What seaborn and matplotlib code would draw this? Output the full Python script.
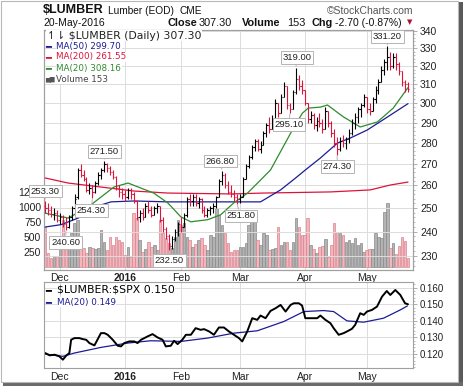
import numpy as np
import pandas as pd
import matplotlib
matplotlib.use('Agg')
import matplotlib.pyplot as plt
import matplotlib.ticker as mticker
from matplotlib.patches import Rectangle
import seaborn as sns

# ---- daily OHLC + volume, Nov 23 2015 .. May 20 2016 ----
opens = [251, 250, 249, 247.5, 248, 245, 246, 243, 242, 246,
         250, 255, 267, 265, 263, 258, 259, 257, 261, 265,
         267, 270, 268, 266, 264, 259, 257, 256, 255, 258,
         256, 253, 246, 248, 246, 251, 249, 247, 250, 251,
         245, 241, 238, 234, 237, 240, 243, 242, 247, 254,
         253, 255, 252, 254, 249, 247, 249, 250, 251, 255,
         262, 265, 260, 257, 256, 255, 254, 255, 263, 269,
         273, 278, 281, 277, 279, 285, 289, 287, 292, 300,
         295, 303, 309, 299, 297, 306, 313, 309, 307, 300,
         292, 294, 289, 291, 290, 287, 296, 290, 285, 280,
         277, 281, 280, 282, 285, 290, 293, 297, 299, 303,
         297, 296, 302, 307, 311, 318, 322, 325, 320, 325,
         321, 317, 311, 310]
highs = [253.3, 252, 251, 250, 249, 248, 247, 246, 247, 251,
         256, 268, 270, 267, 264, 261, 260, 262, 266, 268,
         271.5, 270.5, 269, 267, 264.5, 260, 259, 258, 259, 259,
         257, 253.5, 249, 250, 252, 253, 251, 251, 252, 251,
         246, 242, 239, 238, 241, 244, 246, 248, 255, 256,
         256, 256, 255, 254.5, 251, 250, 251, 252, 255.5, 263,
         266.8, 265.5, 262, 260, 258, 256, 256, 264, 270, 274,
         279, 282, 282, 281, 286, 290, 293, 294, 302, 300,
         305, 311, 309, 300, 307, 319, 315, 312, 307, 300,
         296, 295, 293, 295, 292, 298, 296, 291, 287, 283,
         283, 284, 283, 287, 292, 295, 298, 300, 305, 303,
         300, 303, 309, 313, 320, 324, 331.2, 328, 327, 327,
         322, 317, 312, 311]
lows = [248, 247, 246, 245, 244, 243, 242, 240.6, 241.5, 245,
        249, 254, 264, 262, 257, 256, 254.3, 256.5, 260, 263,
        266, 266, 265, 263, 258, 255, 254, 253, 254, 254,
        252, 245, 244, 245, 246, 248, 246, 247, 248, 244,
        240, 237, 232.5, 233, 236, 238, 240, 242, 246, 251,
        251, 251, 250, 248, 246, 246, 247, 248, 250, 255,
        260, 259, 256, 255, 253, 251.8, 252, 255, 263, 268,
        272, 276, 276, 275, 279, 283, 285, 287, 292, 293,
        295, 303, 297, 295.1, 297, 305, 307, 305, 299, 290,
        290, 287, 286, 288, 285, 287, 288, 283, 278, 274.3,
        276, 278, 277, 280, 284, 287, 290, 293, 298, 295,
        294, 296, 300, 305, 311, 315, 318, 318, 319, 318,
        315, 309, 306, 306]
closes = [250, 249, 247.5, 248, 245, 246, 243, 242, 246, 250,
          254, 267, 265, 263, 258, 259, 257, 261, 265, 267,
          270, 268, 266, 264, 259, 257, 256, 255, 258, 256,
          253, 246, 248, 246, 251, 249, 247, 250, 251, 245,
          241, 238, 234, 237, 240, 243, 242, 247, 254, 253,
          255, 252, 254, 249, 247, 249, 250, 251, 255, 262,
          265, 260, 257, 256, 255, 254, 255, 263, 269, 273,
          278, 281, 277, 279, 285, 289, 287, 292, 300, 295,
          303, 309, 299, 297, 306, 313, 309, 307, 300, 292,
          294, 289, 291, 290, 287, 296, 290, 285, 280, 277,
          281, 280, 282, 285, 290, 293, 297, 299, 303, 297,
          296, 302, 307, 311, 318, 322, 325, 320, 325, 321,
          317, 311, 310, 307.3]
volumes = [667, 233, 150, 183, 183, 450, 783, 500, 520, 567,
           733, 783, 506, 311, 228, 339, 311, 300, 311, 617,
           422, 283, 506, 367, 506, 450, 422, 200, 339, 172,
           894, 811, 450, 256, 300, 422, 339, 367, 283, 783,
           561, 478, 400, 311, 506, 783, 700, 728, 506, 450,
           339, 380, 450, 478, 367, 283, 533, 506, 978, 867,
           700, 561, 394, 256, 283, 283, 339, 339, 400, 700,
           783, 783, 450, 367, 561, 533, 283, 300, 311, 672,
           367, 422, 422, 283, 422, 811, 672, 533, 533, 811,
           367, 300, 228, 328, 350, 461, 161, 367, 728, 589,
           560, 533, 422, 450, 394, 478, 367, 394, 256, 280,
           294, 294, 561, 506, 478, 922, 1061, 311, 406, 217,
           350, 494, 439, 153]

# moving averages (x = trading-day position)
ma20_x = [0, 7.8, 14.5, 18.9, 23.3, 28.1, 32.5, 36.8, 41.6, 46, 49.4, 55.1, 59.5, 63.9,
          68.6, 72, 76.4, 83.8, 87.2, 89.2, 93.3, 95.7, 101.1, 106.8, 112.6, 118, 123]
ma20_v = [247.8, 245.7, 250.4, 254.8, 259.3, 261.1, 258.8, 256.6, 252.2, 246.2, 244.1, 245.0,
          247.1, 252.2, 256.6, 261.1, 267.1, 286.3, 294.8, 297.4, 297.9, 299.0, 292.9, 287.8,
          290.3, 297.4, 308.16]
ma50_x = [0, 5.4, 11.2, 16.6, 22.3, 30.1, 41.6, 52.7, 63.9, 73, 79.8, 84.9, 88.2, 93.3,
          99.1, 103.4, 109.2, 116, 123]
ma50_v = [241.9, 242.9, 245.7, 250.4, 252.7, 253.1, 252.7, 252.7, 252.7, 252.7, 258.0, 263.4,
          267.1, 272.7, 279.9, 282.3, 286.3, 292.8, 299.7]
ma200_x = [0, 7.8, 18.9, 30.1, 41.6, 62.9, 74, 96.7, 110.2, 117, 123]
ma200_v = [263.4, 261.1, 259.3, 257.5, 256.6, 256.2, 256.6, 257.1, 258.0, 260.2, 261.55]

# $LUMBER:$SPX ratio panel
ratio_x = [0, 1.5, 3.2, 4.8, 6.0, 7.1, 8.2, 8.8, 9.9, 11.6, 12.7, 13.9, 15.0, 16.7, 18.9,
           20.1, 21.2, 22.9, 24.6, 25.7, 26.8, 28.5, 30.2, 31.3, 32.5, 33.6, 34.7, 36.4, 38.1,
           39.8, 40.9, 42.6, 43.7, 44.9, 46.5, 47.7, 49.4, 51.0, 52.7, 53.9, 55.6, 57.2, 58.9,
           60.6, 62.3, 64.0, 65.7, 66.8, 68.5, 70.2, 71.9, 73.0, 74.7, 76.4, 78.1, 79.8, 81.5,
           83.2, 84.3, 86.0, 87.1, 88.2, 89.9, 92.2, 93.3, 95.0, 96.7, 97.8, 99.5, 101.2,
           102.3, 104.0, 105.1, 106.8, 108.0, 109.1, 110.8, 112.5, 114.2, 115.8, 117.0,
           118.7, 120.4, 122.0, 123]
ratio_v = [0.1206, 0.1192, 0.1196, 0.1186, 0.1166, 0.119, 0.1206, 0.1286, 0.1296, 0.1296,
           0.129, 0.1286, 0.1266, 0.1252, 0.1326, 0.1326, 0.1316, 0.1286, 0.125, 0.1246,
           0.1266, 0.1276, 0.1276, 0.1266, 0.1286, 0.1296, 0.1306, 0.132, 0.13, 0.1286,
           0.1246, 0.125, 0.128, 0.126, 0.1286, 0.1316, 0.1316, 0.1356, 0.1346, 0.135,
           0.1336, 0.1316, 0.136, 0.136, 0.1336, 0.1316, 0.1296, 0.1276, 0.1336, 0.1416,
           0.1406, 0.1432, 0.1416, 0.146, 0.1476, 0.1496, 0.1456, 0.1496, 0.1506, 0.1506,
           0.1492, 0.1416, 0.1416, 0.1416, 0.1432, 0.1406, 0.1386, 0.1356, 0.1316, 0.1326,
           0.1336, 0.1352, 0.1376, 0.1446, 0.1436, 0.1456, 0.1466, 0.1486, 0.1546, 0.158,
           0.1556, 0.1586, 0.1556, 0.1506, 0.150]
ratio_ma_x = [0, 6, 9.9, 18.9, 27.9, 35.8, 46, 55, 64, 71.9, 80.9, 87.7, 94.4, 97.8, 102.3,
              108, 114.7, 120.4, 122.8]
ratio_ma_v = [0.120, 0.1186, 0.1206, 0.124, 0.1266, 0.128, 0.1276, 0.1296, 0.1326, 0.134,
              0.1396, 0.1456, 0.1462, 0.1456, 0.140, 0.1392, 0.1416, 0.1466, 0.149]

# labelled swing points: (bar index, 'H'/'L', label offset px)
swings = [(0, 'H', 0, 9.5), (20, 'H', 0, 9), (16, 'L', -1, -12), (7, 'L', 0, -12),
          (42, 'L', 0, -11), (60, 'H', -2, 9.5), (65, 'L', 4, -12), (85, 'H', 1, 10),
          (83, 'L', -1, -12), (99, 'L', 0, -12), (116, 'H', 0, 10)]

price_ticks = [230, 240, 250, 260, 270, 280, 290, 300, 310, 320, 330, 340]
vol_ticks = [250, 500, 750, 1000, 1250]
ratio_ticks = [0.120, 0.130, 0.140, 0.150, 0.160]

holidays = ['2015-11-26', '2015-12-25', '2016-01-01', '2016-01-18', '2016-02-15', '2016-03-25']
dates = pd.bdate_range('2015-11-23', '2016-05-20')
dates = dates[~dates.isin(pd.to_datetime(holidays))]

# ---- styling ----
sns.set_theme(style='white')
plt.rcParams['font.family'] = ['DejaVu Sans']
plt.rcParams['text.parse_math'] = False

UP = '#000000'
DN = '#dc143c'
NAVY = '#1c1c96'
GREEN = '#2e8b2e'
GRID = '#dcdcdc'
SPINE = '#a0a0a0'
TICKF = 'Liberation Sans'

W, H = 464, 387
fig = plt.figure(figsize=(W / 100, H / 100), dpi=100)
fig.patch.set_facecolor('white')


def fx(x):
    return x / W


def fy(y):
    return 1 - y / H


def ftxt(x, y, s, **kw):
    kw.setdefault('va', 'center')
    kw.setdefault('ha', 'left')
    kw.setdefault('parse_math', False)
    fig.text(fx(x), fy(y), s, **kw)


# frame and shadow
fig.add_artist(Rectangle((fx(459), fy(383)), 4 / W, 381 / H, transform=fig.transFigure,
                         fc='#5a5a5a', ec='none'))
fig.add_artist(Rectangle((fx(3), fy(386)), 460 / W, 4 / H, transform=fig.transFigure,
                         fc='#6a6a6a', ec='none'))
fig.add_artist(Rectangle((fx(0.5), fy(381.5)), 458 / W, 381 / H, transform=fig.transFigure,
                         fc='none', ec='#b8b8b8', lw=0.8))

idx = np.arange(len(closes))
c = np.array(closes)
up = np.r_[c[0] >= opens[0], c[1:] >= c[:-1]]
bar_col = np.where(up, UP, DN)
vol_fc = np.where(up, '#b3b3b3', '#f1b7bd')
vol_ec = np.where(up, '#8a8a8a', '#d9838f')

mon = dates.month
tick_idx = [i for i in range(1, len(dates)) if mon[i] != mon[i - 1]]
tick_lab = [str(dates[i].year) if dates[i].month == 1 else dates[i].strftime('%b') for i in tick_idx]

xl = (-0.4, 124.7)

# ---- main panel: volume (left) + price (right, log) ----
ax_v = fig.add_axes([fx(44), fy(270), (413 - 44) / W, 240 / H])
ax_v.bar(idx, volumes, width=0.85, color=vol_fc, edgecolor=vol_ec, linewidth=0.5, zorder=2)
ax_v.set_ylim(-50, 3950)
ax_v.set_xlim(*xl)
ax_v.set_yticks(vol_ticks)
ax_v.set_yticklabels([str(v) for v in vol_ticks], fontfamily=TICKF)
ax_v.tick_params(axis='y', length=0, pad=2, labelsize=7.5, labelcolor='#222222')
ax_v.set_xticks(tick_idx)
ax_v.set_xticklabels(tick_lab, fontfamily=TICKF)
ax_v.tick_params(axis='x', length=0, pad=2.5, labelsize=7.5, labelcolor='#222222')
ax_v.grid(axis='x', color=GRID, lw=0.7, zorder=0)
ax_v.grid(axis='y', visible=False)
ax_v.set_axisbelow(True)

ax_p = ax_v.twinx()
ax_p.set_yscale('log')
ax_p.vlines(idx, lows, highs, colors=bar_col, lw=0.8, zorder=4)
ax_p.hlines(opens, idx - 0.45, idx, colors=bar_col, lw=0.8, zorder=4)
ax_p.hlines(closes, idx, idx + 0.45, colors=bar_col, lw=0.8, zorder=4)
sns.lineplot(x=ma200_x, y=ma200_v, ax=ax_p, color=DN, lw=0.9, sort=False, zorder=3)
sns.lineplot(x=ma50_x, y=ma50_v, ax=ax_p, color=NAVY, lw=0.9, sort=False, zorder=3)
sns.lineplot(x=ma20_x, y=ma20_v, ax=ax_p, color=GREEN, lw=0.9, sort=False, zorder=3)
ax_p.set_ylim(224.5, 340.6)
ax_p.set_xlim(*xl)
ax_p.yaxis.set_major_locator(mticker.FixedLocator(price_ticks))
ax_p.yaxis.set_major_formatter(mticker.FormatStrFormatter('%d'))
ax_p.yaxis.set_minor_locator(mticker.FixedLocator([p for p in range(226, 341, 2) if p % 10]))
ax_p.yaxis.set_minor_formatter(mticker.NullFormatter())
ax_p.tick_params(axis='y', which='major', length=3, width=0.6, color=SPINE, pad=2,
                 labelsize=7.5, labelcolor='#222222')
ax_p.tick_params(axis='y', which='minor', length=1.5, width=0.5, color=SPINE)
for t in ax_p.get_yticklabels():
    t.set_fontfamily(TICKF)
ax_p.grid(axis='y', which='major', color=GRID, lw=0.7)
ax_p.set_xlabel('')
ax_p.set_ylabel('')

for i, kind, dx, dy in swings:
    v = highs[i] if kind == 'H' else lows[i]
    ax_p.annotate(f'{v:.2f}', xy=(i, v), xytext=(dx, dy), textcoords='offset pixels',
                  ha='center', va='center', fontsize=6.8, fontfamily=TICKF, color='#222222',
                  bbox=dict(boxstyle='square,pad=0.2', fc='white', ec='#b4b4b4', lw=0.7),
                  arrowprops=dict(arrowstyle='-', color='#b4b4b4', lw=0.7, shrinkA=0, shrinkB=1),
                  annotation_clip=False, zorder=6)

for t in ax_v.get_xticklabels():
    if t.get_text().isdigit():
        t.set_fontweight('bold')

for a in (ax_v, ax_p):
    for s in a.spines.values():
        s.set_color(SPINE)
        s.set_linewidth(0.8)

# main legend
ftxt(47, 35.5, '\u21bf\u21c2 $LUMBER (Daily) %.2f' % closes[-1], fontsize=7.8, color='#222222',
     bbox=dict(fc='white', ec='none', pad=0.5))
legend_rows = [('MA(50) %.2f' % ma50_v[-1], NAVY, 46),
               ('MA(200) %.2f' % ma200_v[-1], DN, 57),
               ('MA(20) %.2f' % ma20_v[-1], GREEN, 68)]
for s, col, y in legend_rows:
    ftxt(45, y, '\u2501', fontsize=7, color=col)
    ftxt(56.5, y, s, fontsize=6.3, color=col, bbox=dict(fc='white', ec='none', pad=0.3))
ftxt(45, 79, '\u2586\u2587', fontsize=4.5, color='#555555')
ftxt(56.5, 79, 'Volume %d' % volumes[-1], fontsize=6.3, color='#444444',
     bbox=dict(fc='white', ec='none', pad=0.3))

# ---- ratio panel ----
ax_r = fig.add_axes([fx(44), fy(368.3), (413 - 44) / W, (368.3 - 281.7) / H])
sns.lineplot(x=ratio_ma_x, y=ratio_ma_v, ax=ax_r, color=NAVY, lw=0.9, sort=False)
sns.lineplot(x=ratio_x, y=ratio_v, ax=ax_r, color='black', lw=1.4, sort=False)
ax_r.set_xlim(*xl)
ax_r.set_ylim(0.1114, 0.1636)
ax_r.yaxis.tick_right()
ax_r.set_yticks(ratio_ticks)
ax_r.yaxis.set_major_formatter(mticker.FormatStrFormatter('%.3f'))
ax_r.yaxis.set_minor_locator(mticker.MultipleLocator(0.002))
ax_r.tick_params(axis='y', which='major', length=3, width=0.6, color=SPINE, pad=2,
                 labelsize=7, labelcolor='#222222')
ax_r.tick_params(axis='y', which='minor', length=1.5, width=0.5, color=SPINE, right=True, left=False)
ax_r.set_xticks(tick_idx)
ax_r.set_xticklabels(tick_lab)
ax_r.tick_params(axis='x', length=0, pad=2.5, labelsize=7.5, labelcolor='#222222')
for t in ax_r.get_xticklabels() + ax_r.get_yticklabels():
    t.set_fontfamily(TICKF)
    if t.get_text().isdigit():
        t.set_fontweight('bold')
ax_r.grid(True, color=GRID, lw=0.7)
ax_r.set_xlabel('')
ax_r.set_ylabel('')
for s in ax_r.spines.values():
    s.set_color(SPINE)
    s.set_linewidth(0.8)

ftxt(45, 290, '\u2501', fontsize=7, color='black')
ftxt(57, 290, '$LUMBER:$SPX %.3f' % ratio_v[-1], fontsize=7.8, color='black',
     bbox=dict(fc='white', ec='none', pad=0.3))
ftxt(45, 302, '\u2501', fontsize=7, color=NAVY)
ftxt(57, 302, 'MA(20) %.3f' % ratio_ma_v[-1], fontsize=6.3, color=NAVY,
     bbox=dict(fc='white', ec='none', pad=0.3))

# ---- header ----
chg = closes[-1] - closes[-2]
pct = chg / closes[-2] * 100
ftxt(43, 10, '$LUMBER', fontsize=9, fontweight='bold', family=TICKF, color='#111111')
ftxt(108, 10.5, 'Lumber (EOD)', fontsize=7.3, family=TICKF, color='#111111')
ftxt(180, 10.5, 'CME', fontsize=7.3, family=TICKF, color='#111111')
ftxt(413, 10.5, '\u00a9StockCharts.com', ha='right', fontsize=7.5, family=TICKF, color='#555555')
ftxt(43, 22.5, '20-May-2016', fontsize=7.5, family=TICKF, color='#111111')
ftxt(168, 22.5, 'Close', fontsize=7.8, fontweight='bold', family=TICKF, color='#111111')
ftxt(199, 22.5, '%.2f' % closes[-1], fontsize=7.8, family=TICKF, color='#111111')
ftxt(242, 22.5, 'Volume', fontsize=7.8, fontweight='bold', family=TICKF, color='#111111')
ftxt(287, 22.5, '%d' % volumes[-1], fontsize=7.8, family=TICKF, color='#111111')
ftxt(312, 22.5, 'Chg', fontsize=7.8, fontweight='bold', family=TICKF, color='#111111')
ftxt(335, 22.5, '%.2f (%.2f%%)' % (chg, pct), fontsize=7.5, family=TICKF, color='#111111')
ftxt(407, 22.5, '\u25bc', fontsize=5, color='#b0102a')

fig.savefig('out.png', dpi=100, facecolor='white')
